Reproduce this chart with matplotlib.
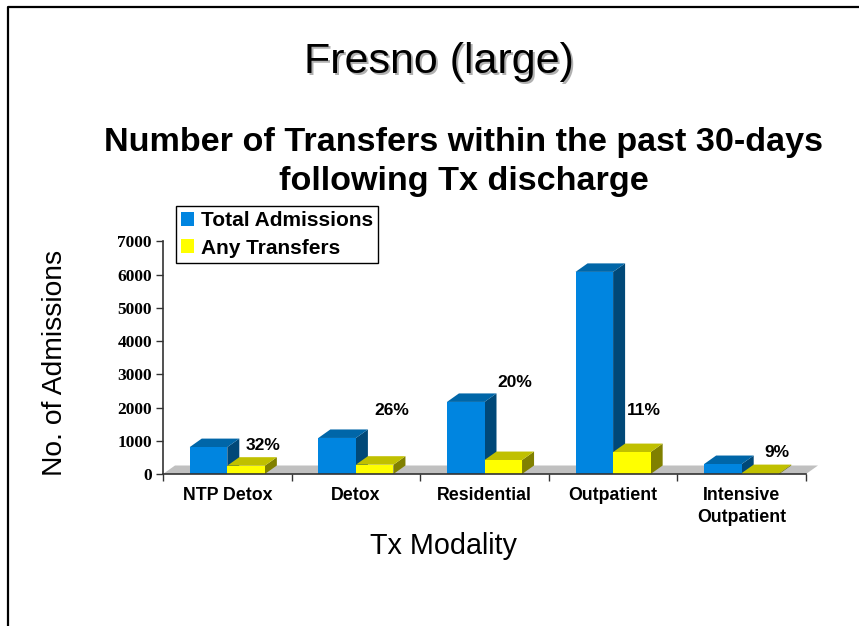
import matplotlib
matplotlib.use('Agg')
import matplotlib.pyplot as plt
from matplotlib.patches import Polygon, Patch
from matplotlib.lines import Line2D

plt.rcParams['font.family'] = ['Liberation Sans', 'DejaVu Sans']

# data
categories = ['NTP Detox', 'Detox', 'Residential', 'Outpatient', 'Intensive\nOutpatient']
total_admissions = [810, 1085, 2170, 6085, 300]
any_transfers = [250, 280, 420, 660, 27]
percent_labels = ['32%', '26%', '20%', '11%', '9%']
y_ticks = [0, 1000, 2000, 3000, 4000, 5000, 6000, 7000]

W, H = 859, 626
fig = plt.figure(figsize=(W / 100, H / 100), dpi=100, facecolor='white')

# axes placed by pixels of the original slide
left, right, bottom, top = 163, 806, 474, 241.5
ax = fig.add_axes([left / W, 1 - bottom / H, (right - left) / W, (bottom - top) / H])
ax.set_xlim(0, len(categories))
ax.set_ylim(0, 7000)
ax.patch.set_visible(False)

# depth of the fake 3d, in data units
dx = 12 / 128.6
dy = 8.5 / 33.2 * 1000
bar_w = 0.292


def bar3d(x0, val, front, top_c, side_c):
    w = bar_w
    ax.add_patch(Polygon([(x0 + w, 0), (x0 + w + dx, dy), (x0 + w + dx, val + dy), (x0 + w, val)],
                         fc=side_c, ec='none', clip_on=False, zorder=3))
    ax.add_patch(Polygon([(x0, val), (x0 + dx, val + dy), (x0 + w + dx, val + dy), (x0 + w, val)],
                         fc=top_c, ec='none', clip_on=False, zorder=3))
    ax.bar(x0, val, w, align='edge', color=front, linewidth=0, zorder=3, clip_on=False)


# grey floor
n = len(categories)
ax.add_patch(Polygon([(0, 0), (dx, dy), (n + dx, dy), (n, 0)], fc='#c0c0c0', ec='none',
                     clip_on=False, zorder=1))

for i in range(n):
    c = i + 0.5
    bar3d(c - bar_w, total_admissions[i], '#0085e0', '#0066a8', '#004878')
    bar3d(c, any_transfers[i], '#ffff00', '#c0c000', '#808000')

# percent labels sit by hand next to the bars, in pixels
label_px = [(263, 445), (392, 410), (515, 382), (644, 410), (777, 452)]
for txt, (px, py) in zip(percent_labels, label_px):
    fig.text(px / W, 1 - (py + 0.5) / H, txt, ha='center', va='center', fontsize=12.5,
             fontweight='bold', color='black', zorder=5)

for s in ['top', 'right']:
    ax.spines[s].set_visible(False)
for s in ['left', 'bottom']:
    ax.spines[s].set_color('#333333')
    ax.spines[s].set_linewidth(1.2)
    ax.spines[s].set_zorder(4)

ax.set_yticks(y_ticks)
ax.set_yticklabels([str(v) for v in y_ticks], fontfamily='Liberation Serif', fontweight='bold',
                   fontsize=12.5)
ax.set_xticks(range(n + 1))
ax.set_xticklabels([''] * (n + 1))
ax.tick_params(axis='y', direction='out', length=5, width=1, pad=3, color='#333333')
ax.tick_params(axis='x', direction='out', length=5, width=1, color='#333333')

for i, name in enumerate(categories):
    fig.text((left + (i + 0.5) * 128.6) / W, 1 - 487 / H, name, ha='center', va='top',
             fontsize=12.8, fontweight='bold', linespacing=1.35)

fig.text(443 / W, 1 - 546 / H, 'Tx Modality', ha='center', va='center', fontsize=20.7)
fig.text(55 / W, 1 - 363 / H, 'No. of Admissions', ha='center', va='center', rotation=90,
         fontsize=20.3)

# slide title with its shadow
fig.text(440.5 / W, 1 - 63.5 / H, 'Fresno (large)', ha='center', va='center', fontsize=31,
         color='#b0b0b0')
fig.text(439 / W, 1 - 62 / H, 'Fresno (large)', ha='center', va='center', fontsize=31,
         color='black')
fig.text(464 / W, 1 - 162 / H, 'Number of Transfers within the past 30-days\nfollowing Tx discharge',
         ha='center', va='center', fontsize=24.6, fontweight='bold', linespacing=1.3)

# legend
handles = [Patch(fc='#0085e0', ec='none', label='Total Admissions'),
           Patch(fc='#ffff00', ec='none', label='Any Transfers')]
fig.legend(handles=handles, loc='upper left', bbox_to_anchor=(176 / W, 1 - 206 / H),
           borderaxespad=0, fancybox=False, framealpha=1, edgecolor='black',
           prop={'size': 15, 'weight': 'bold'}, handlelength=0.63, handleheight=0.63,
           handletextpad=0.3, labelspacing=0.4, borderpad=0.25)

# slide border
fig.add_artist(Line2D([7.8 / W, 7.8 / W, 1], [0, 1 - 6.5 / H, 1 - 6.5 / H], color='black', lw=1.6))

fig.savefig('out.png', dpi=100)
